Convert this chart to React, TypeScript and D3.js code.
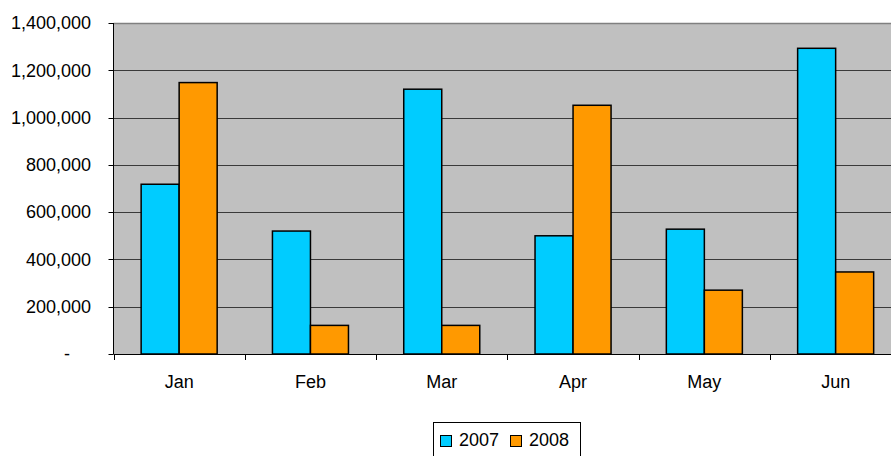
import React, { useEffect, useRef } from "react";
import * as d3 from "d3";

// chart data
const months = ["Jan", "Feb", "Mar", "Apr", "May", "Jun"];
const seriesNames = ["2007", "2008"];
const values2007 = [718000, 520000, 1120000, 500000, 528000, 1293000];
const values2008 = [1148000, 121000, 121000, 1052000, 270000, 347000];
const yTicks = [0, 200000, 400000, 600000, 800000, 1000000, 1200000, 1400000];
const colors = ["#00CCFF", "#FF9900"];

const W = 891,
  H = 456;

const App = () => {
  const ref = useRef<SVGSVGElement>(null);

  useEffect(() => {
    const svg = d3.select(ref.current);
    svg.selectAll("*").remove();

    // plot area (runs past the right edge, as in the original)
    const margin = { top: 23, left: 113.5, bottom: 354, right: 901.3 };
    const font = "'Liberation Sans', Arial, sans-serif";

    const x = d3.scaleBand().domain(months).range([margin.left, margin.right]).padding(0);
    const bw = x.bandwidth();
    const xInner = d3
      .scaleBand()
      .domain(seriesNames)
      .range([bw * 0.2105, bw * 0.7895])
      .padding(0);
    const y = d3.scaleLinear().domain([0, 1400000]).range([margin.bottom, margin.top]);

    // background
    svg
      .append("rect")
      .attr("x", margin.left)
      .attr("y", margin.top)
      .attr("width", margin.right - margin.left)
      .attr("height", margin.bottom - margin.top)
      .attr("fill", "#C0C0C0");

    // gridlines
    svg
      .append("g")
      .selectAll("line")
      .data(yTicks.filter((t) => t > 0 && t < 1400000))
      .join("line")
      .attr("x1", margin.left)
      .attr("x2", margin.right)
      .attr("y1", (d) => Math.round(y(d)) + 0.5)
      .attr("y2", (d) => Math.round(y(d)) + 0.5)
      .attr("stroke", "#3a3a3a")
      .attr("stroke-width", 1);

    // plot border top
    svg
      .append("line")
      .attr("x1", margin.left)
      .attr("x2", margin.right)
      .attr("y1", Math.round(y(1400000)) + 0.5)
      .attr("y2", Math.round(y(1400000)) + 0.5)
      .attr("stroke", "#808080")
      .attr("stroke-width", 1.5);

    // bars
    const table = months.map((m, i) => ({ month: m, vals: [values2007[i], values2008[i]] }));
    const groups = svg
      .append("g")
      .selectAll("g")
      .data(table)
      .join("g")
      .attr("transform", (d) => `translate(${x(d.month)},0)`);
    groups
      .selectAll("rect")
      .data((d) => d.vals.map((v, j) => ({ key: seriesNames[j], v, j })))
      .join("rect")
      .attr("x", (d) => xInner(d.key)!)
      .attr("y", (d) => y(d.v))
      .attr("width", xInner.bandwidth())
      .attr("height", (d) => y(0) - y(d.v))
      .attr("fill", (d) => colors[d.j])
      .attr("stroke", "#000")
      .attr("stroke-width", 1.5);

    // y axis
    svg
      .append("line")
      .attr("x1", margin.left)
      .attr("x2", margin.left)
      .attr("y1", margin.top)
      .attr("y2", margin.bottom)
      .attr("stroke", "#000");
    svg
      .append("g")
      .selectAll("line")
      .data(yTicks)
      .join("line")
      .attr("x1", margin.left - 5)
      .attr("x2", margin.left)
      .attr("y1", (d) => Math.round(y(d)) + 0.5)
      .attr("y2", (d) => Math.round(y(d)) + 0.5)
      .attr("stroke", "#000");
    svg
      .append("g")
      .selectAll("text")
      .data(yTicks)
      .join("text")
      .attr("x", (d) => (d === 0 ? 70 : 91))
      .attr("y", (d) => y(d))
      .attr("dy", "0.35em")
      .attr("text-anchor", "end")
      .style("font-family", font)
      .style("font-size", "18px")
      .text((d) => (d === 0 ? "-" : d3.format(",")(d)));

    // x axis
    svg
      .append("line")
      .attr("x1", margin.left)
      .attr("x2", margin.right)
      .attr("y1", margin.bottom + 0.5)
      .attr("y2", margin.bottom + 0.5)
      .attr("stroke", "#000");
    svg
      .append("g")
      .selectAll("line")
      .data(d3.range(months.length + 1))
      .join("line")
      .attr("x1", (i) => Math.round(margin.left + i * bw) + 0.5)
      .attr("x2", (i) => Math.round(margin.left + i * bw) + 0.5)
      .attr("y1", margin.bottom)
      .attr("y2", margin.bottom + 6)
      .attr("stroke", "#000");
    svg
      .append("g")
      .selectAll("text")
      .data(months)
      .join("text")
      .attr("x", (d) => x(d)! + bw / 2)
      .attr("y", 388)
      .attr("text-anchor", "middle")
      .style("font-family", font)
      .style("font-size", "18px")
      .text((d) => d);

    // legend
    const legend = svg.append("g");
    legend
      .append("rect")
      .attr("x", 433.5)
      .attr("y", 422.5)
      .attr("width", 147)
      .attr("height", 40)
      .attr("fill", "#fff")
      .attr("stroke", "#000");
    const items = legend
      .selectAll("g")
      .data(seriesNames)
      .join("g")
      .attr("transform", (d, i) => `translate(${440 + i * 70},0)`);
    items
      .append("rect")
      .attr("x", 0.5)
      .attr("y", 435.5)
      .attr("width", 11)
      .attr("height", 11)
      .attr("fill", (d, i) => colors[i])
      .attr("stroke", "#000");
    items
      .append("text")
      .attr("x", 19)
      .attr("y", 446)
      .style("font-family", font)
      .style("font-size", "18px")
      .text((d) => d);
  }, []);

  return (
    <svg
      ref={ref}
      width={W}
      height={H}
      style={{ position: "absolute", left: 0, top: 0, background: "#fff" }}
    />
  );
};

export default App;
